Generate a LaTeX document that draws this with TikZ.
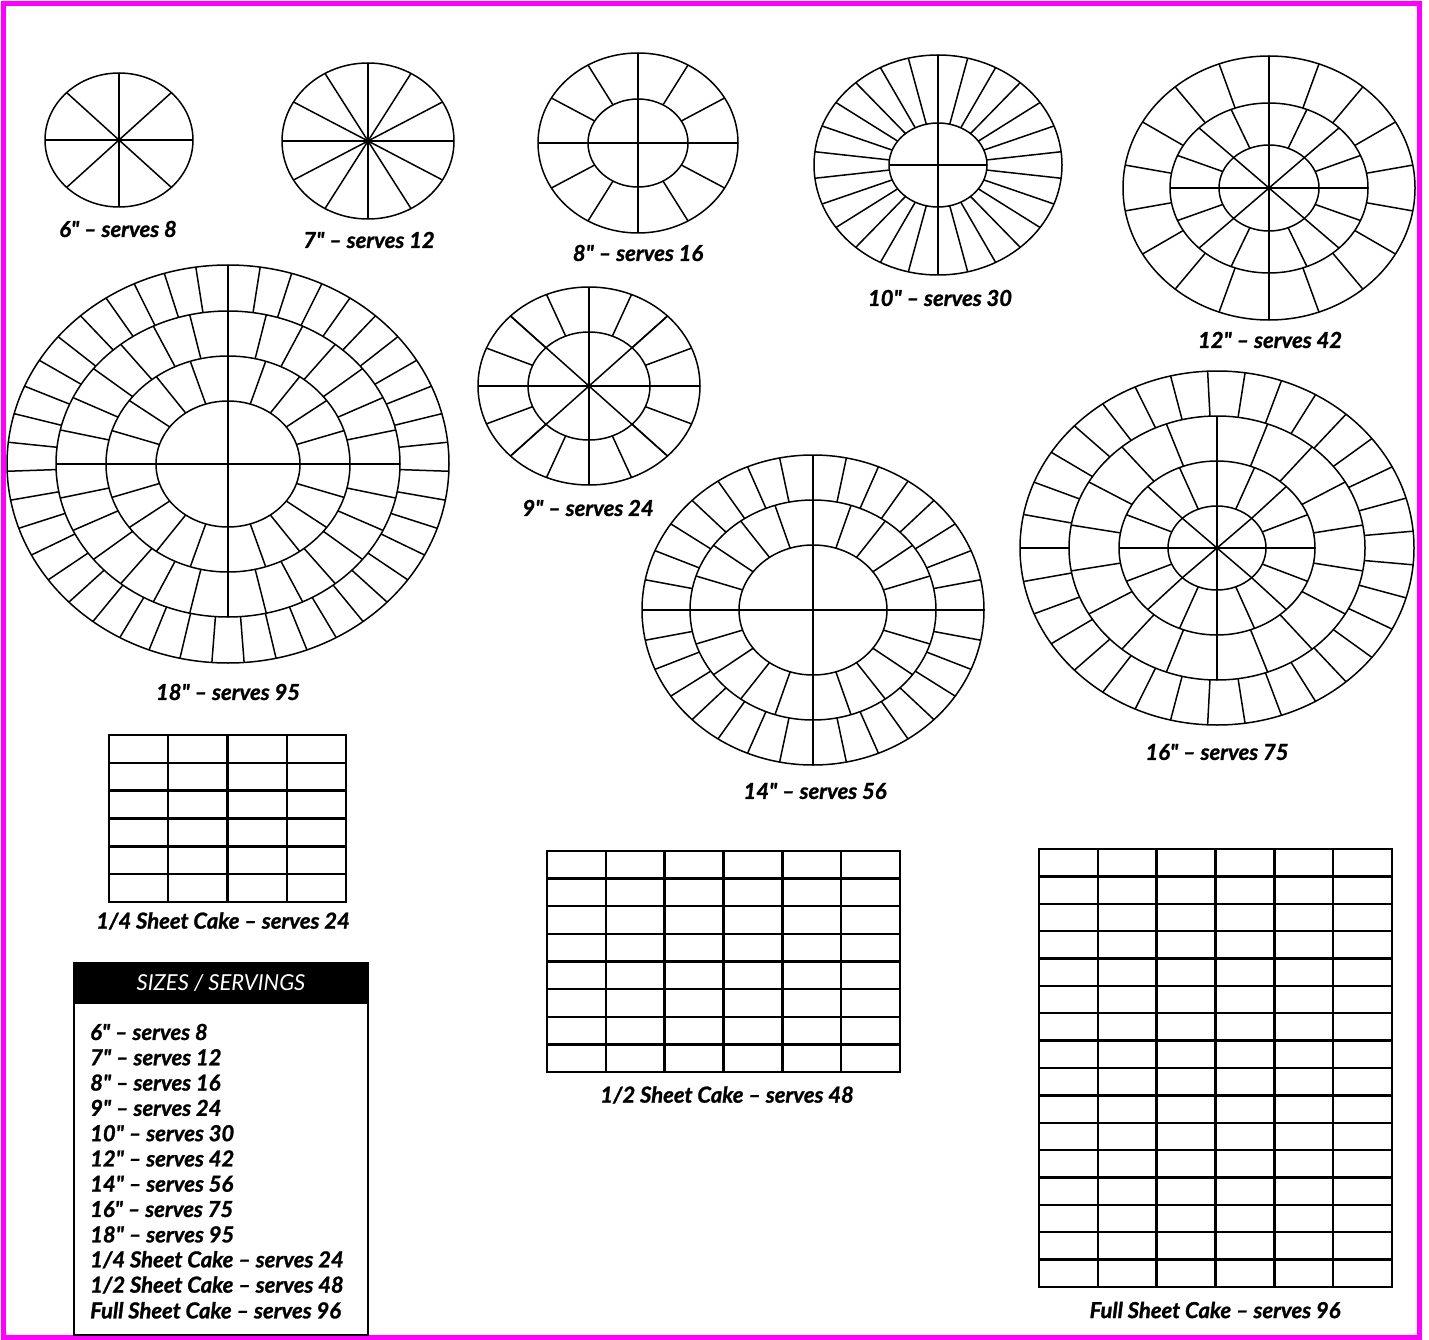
\documentclass[tikz,border=0pt]{standalone}
\usepackage{fontspec}
\setmainfont{Lato}[BoldItalicFeatures={FakeBold=1.2}]
\definecolor{framepink}{RGB}{255,0,255}
\newcommand{\inch}{\textquotedbl}
\begin{document}
\begin{tikzpicture}[x=1pt,y=-1pt,
  cut/.style={line width=1.5pt},
  sheet/.style={line width=2.4pt},
  lbl/.style={font=\fontsize{22}{25}\selectfont\bfseries\itshape, inner sep=0pt}]
\useasboundingbox (0,0) rectangle (1429,1340);
\draw[framepink, line width=5pt] (3,4) rectangle (1419,1337);

% 6 inch
\begin{scope}[shift={(119,140)}]
  \draw[cut] (0,0) ellipse [x radius=74, y radius=67];
  \foreach \a in {0,45,...,315} \draw[cut] (0,0) -- (\a:74 and 67);
\end{scope}
\node[lbl] (lab6) at (118,229) {6\inch{} -- serves 8};

% 7 inch
\begin{scope}[shift={(368,141)}]
  \draw[cut] (0,0) ellipse [x radius=86, y radius=78];
  \foreach \a in {0,30,...,330} \draw[cut] (0,0) -- (\a:86 and 78);
\end{scope}
\node[lbl] (lab7) at (369,240) {7\inch{} -- serves 12};

% 8 inch
\begin{scope}[shift={(638,143)}]
  \draw[cut] (0,0) ellipse [x radius=100, y radius=90];
  \draw[cut] (0,0) ellipse [x radius=50, y radius=44];
  \draw[cut] (-100,0) -- (100,0);
  \draw[cut] (0,-90) -- (0,90);
  \foreach \a in {0,30,...,330} \draw[cut] (\a:50 and 44) -- (\a:100 and 90);
\end{scope}
\node[lbl] (lab8) at (638,253) {8\inch{} -- serves 16};

% 9 inch
\begin{scope}[shift={(589,386)}]
  \draw[cut] (0,0) ellipse [x radius=111, y radius=99];
  \draw[cut] (0,0) ellipse [x radius=61, y radius=54];
  \foreach \a in {0,45,...,315} \draw[cut] (0,0) -- (\a:111 and 99);
  \foreach \a in {0,22.5,...,337.5} \draw[cut] (\a:61 and 54) -- (\a:111 and 99);
\end{scope}
\node[lbl] (lab9) at (588,508) {9\inch{} -- serves 24};

% 10 inch
\begin{scope}[shift={(938,165)}]
  \draw[cut] (0,0) ellipse [x radius=124, y radius=110];
  \draw[cut] (0,0) ellipse [x radius=49, y radius=42];
  \draw[cut] (-49,0) -- (49,0);
  \draw[cut] (0,-110) -- (0,110);
  \foreach \k in {1,...,26} \draw[cut] ({90+\k*360/26}:49 and 42) -- ({90+\k*360/26}:124 and 110);
\end{scope}
\node[lbl] (lab10) at (940,298) {10\inch{} -- serves 30};

% 12 inch
\begin{scope}[shift={(1269,188)}]
  \draw[cut] (0,0) ellipse [x radius=146, y radius=132];
  \draw[cut] (0,0) ellipse [x radius=99, y radius=85];
  \draw[cut] (0,0) ellipse [x radius=50, y radius=43];
  \foreach \a in {0,45,...,315} \draw[cut] (0,0) -- (\a:50 and 43);
  \foreach \a in {0,22.5,...,337.5} \draw[cut] (\a:50 and 43) -- (\a:99 and 85);
  \foreach \k in {1,...,18} \draw[cut] ({90+\k*20}:99 and 85) -- ({90+\k*20}:146 and 132);
\end{scope}
\node[lbl] (lab12) at (1270,340) {12\inch{} -- serves 42};

% 18 inch
\begin{scope}[shift={(228,464)}]
  \draw[cut] (0,0) ellipse [x radius=221, y radius=199];
  \draw[cut] (0,0) ellipse [x radius=172, y radius=153];
  \draw[cut] (0,0) ellipse [x radius=122, y radius=108];
  \draw[cut] (0,0) ellipse [x radius=72, y radius=63];
  \draw[cut] (-172,0) -- (172,0);
  \draw[cut] (0,-153) -- (0,153);
  \foreach \k in {1,...,20} \draw[cut] ({\k*18}:72 and 63) -- ({\k*18}:122 and 108);
  \foreach \k in {1,...,28} \draw[cut] ({\k*360/28}:122 and 108) -- ({\k*360/28}:172 and 153);
  \foreach \k in {1,...,43} \draw[cut] ({270+\k*360/43}:172 and 153) -- ({270+\k*360/43}:221 and 199);
\end{scope}
\node[lbl] (lab18) at (228,692) {18\inch{} -- serves 95};

% 14 inch
\begin{scope}[shift={(813,610)}]
  \draw[cut] (0,0) ellipse [x radius=171, y radius=155];
  \draw[cut] (0,0) ellipse [x radius=123, y radius=110];
  \draw[cut] (0,0) ellipse [x radius=74, y radius=65];
  \draw[cut] (-171,0) -- (171,0);
  \draw[cut] (0,-155) -- (0,155);
  \foreach \k in {1,...,20} \draw[cut] ({\k*18}:74 and 65) -- ({\k*18}:123 and 110);
  \foreach \k in {1,...,32} \draw[cut] ({\k*11.25}:123 and 110) -- ({\k*11.25}:171 and 155);
\end{scope}
\node[lbl] (lab14) at (815,791) {14\inch{} -- serves 56};

% 16 inch
\begin{scope}[shift={(1217,548)}]
  \draw[cut] (0,0) ellipse [x radius=197, y radius=177];
  \draw[cut] (0,0) ellipse [x radius=148, y radius=132];
  \draw[cut] (0,0) ellipse [x radius=98, y radius=87];
  \draw[cut] (0,0) ellipse [x radius=49, y radius=42];
  \foreach \a in {0,45,...,315} \draw[cut] (0,0) -- (\a:49 and 42);
  \foreach \a in {0,22.5,...,337.5} \draw[cut] (\a:49 and 42) -- (\a:98 and 87);
  \foreach \k in {1,...,18} \draw[cut] ({90+\k*20}:98 and 87) -- ({90+\k*20}:148 and 132);
  \foreach \k in {1,...,33} \draw[cut] ({180+\k*360/33}:148 and 132) -- ({180+\k*360/33}:197 and 177);
\end{scope}
\node[lbl] (lab16) at (1217,752) {16\inch{} -- serves 75};

% quarter sheet
\draw[sheet] (109,735) rectangle (346,902);
\foreach \i in {1,...,3} \draw[sheet] ({109+\i*59.25},735) -- ({109+\i*59.25},902);
\foreach \j in {1,...,5} \draw[sheet] (109,{735+\j*27.83}) -- (346,{735+\j*27.83});
\node[lbl] (labq) at (223,921) {1/4 Sheet Cake -- serves 24};

% half sheet
\draw[sheet] (547,851) rectangle (900,1072);
\foreach \i in {1,...,5} \draw[sheet] ({547+\i*58.83},851) -- ({547+\i*58.83},1072);
\foreach \j in {1,...,7} \draw[sheet] (547,{851+\j*27.625}) -- (900,{851+\j*27.625});
\node[lbl] (labh) at (727,1095) {1/2 Sheet Cake -- serves 48};

% full sheet
\draw[sheet] (1039,849) rectangle (1392,1287);
\foreach \i in {1,...,5} \draw[sheet] ({1039+\i*58.83},849) -- ({1039+\i*58.83},1287);
\foreach \j in {1,...,15} \draw[sheet] (1039,{849+\j*27.375}) -- (1392,{849+\j*27.375});
\node[lbl] (labf) at (1215,1310) {Full Sheet Cake -- serves 96};

% key
\fill (74,963) rectangle (368,1004);
\draw[line width=2pt] (74,963) rectangle (368,1335);
\node[font=\fontsize{22}{25}\selectfont\itshape, text=white, inner sep=0pt] (keyhead) at (221,983) {SIZES / SERVINGS};
\foreach \t [count=\i] in {6\inch{} -- serves 8, 7\inch{} -- serves 12, 8\inch{} -- serves 16, 9\inch{} -- serves 24,
    10\inch{} -- serves 30, 12\inch{} -- serves 42, 14\inch{} -- serves 56, 16\inch{} -- serves 75, 18\inch{} -- serves 95,
    1/4 Sheet Cake -- serves 24, 1/2 Sheet Cake -- serves 48, Full Sheet Cake -- serves 96}
  \node[lbl, anchor=west] (key\i) at (90,{1032+25.3*(\i-1)}) {\t};
\end{tikzpicture}
\end{document}
